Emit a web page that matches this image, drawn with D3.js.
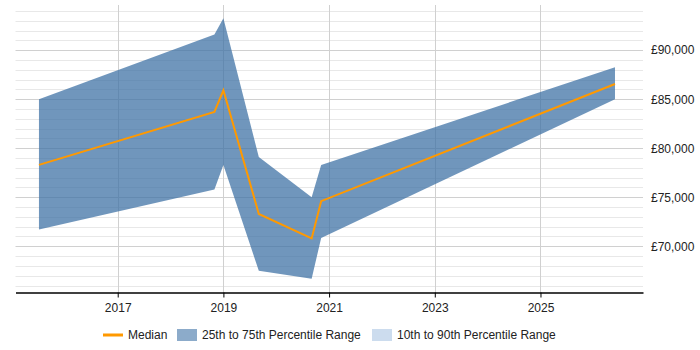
<!DOCTYPE html>
<html>
<head>
<meta charset="utf-8">
<script src="https://cdn.jsdelivr.net/npm/d3@7"></script>
<style>
html,body{margin:0;padding:0;background:#fff;}
svg text{font-family:"Liberation Sans",Arial,sans-serif;}
</style>
</head>
<body>
<svg id="chart" width="700" height="350"></svg>
<script>
// Data
const dates = [2015.51, 2018.83, 2019.0, 2019.67, 2020.67, 2020.85, 2026.41];
const p25 = [71700, 75800, 78300, 67500, 66700, 70850, 85000];
const median = [78300, 83700, 85900, 73300, 70800, 74600, 86550];
const p75 = [85000, 91600, 93250, 79100, 75000, 78300, 88250];
const xTicks = [2017, 2019, 2021, 2023, 2025];
const yTicks = [70000, 75000, 80000, 85000, 90000];
const yMinor = d3.range(66000, 95000, 1000);
const legendItems = ["Median", "25th to 75th Percentile Range", "10th to 90th Percentile Range"];

const svg = d3.select("#chart");
const L = 15.5, R = 643, T = 5, B = 292.3;
const x = d3.scaleLinear().domain([2015.066, 2026.94]).range([L, R]);
const y = d3.scaleLinear().domain([65310, 94600]).range([B, T]);

const data = dates.map((d, i) => ({d, lo: p25[i], m: median[i], hi: p75[i]}));

// minor gridlines
svg.append("g").selectAll("line").data(yMinor.filter(v => v % 5000 !== 0)).join("line")
  .attr("x1", L).attr("x2", R).attr("y1", d => Math.round(y(d)) + 0.5).attr("y2", d => Math.round(y(d)) + 0.5)
  .attr("stroke", "#e8e8e8").attr("stroke-width", 1);
// major gridlines
svg.append("g").selectAll("line").data(yTicks).join("line")
  .attr("x1", L).attr("x2", R).attr("y1", d => Math.round(y(d)) + 0.5).attr("y2", d => Math.round(y(d)) + 0.5)
  .attr("stroke", "#d0d0d0").attr("stroke-width", 1);
// vertical gridlines
svg.append("g").selectAll("line").data(xTicks).join("line")
  .attr("x1", d => Math.round(x(d)) + 0.5).attr("x2", d => Math.round(x(d)) + 0.5).attr("y1", T).attr("y2", B)
  .attr("stroke", "#d0d0d0").attr("stroke-width", 1);

// band
const area = d3.area().x(d => x(d.d)).y0(d => y(d.lo)).y1(d => y(d.hi));
svg.append("path").datum(data).attr("d", area).attr("fill", "#4073a6").attr("fill-opacity", 0.75);

// median line
const line = d3.line().x(d => x(d.d)).y(d => y(d.m));
svg.append("path").datum(data).attr("d", line).attr("fill", "none")
  .attr("stroke", "#ff9900").attr("stroke-width", 2);

// x axis
const xAxis = d3.axisBottom(x).tickValues(xTicks).tickFormat(d3.format("d")).tickSize(5).tickSizeOuter(0);
const gx = svg.append("g").attr("transform", `translate(0,${Math.round(B) + 0.5})`).call(xAxis);
gx.select(".domain").attr("stroke", "#000").attr("stroke-width", 1.3);
gx.selectAll(".tick line").attr("stroke", "#000");
gx.selectAll(".tick text").attr("font-size", 12).attr("fill", "#222").attr("dy", "0.95em")
  .attr("font-family", "'Liberation Sans', Arial, sans-serif");

// y axis (right)
const yAxis = d3.axisRight(y).tickValues(yTicks).tickFormat(d => "£" + d3.format(",")(d)).tickSize(0).tickPadding(8);
const gy = svg.append("g").attr("transform", `translate(${R},0)`).call(yAxis);
gy.select(".domain").remove();
gy.selectAll(".tick text").attr("font-size", 12).attr("fill", "#222")
  .attr("font-family", "'Liberation Sans', Arial, sans-serif");

// legend
const lg = svg.append("g");
const ly = 335;
lg.append("line").attr("x1", 103).attr("x2", 123).attr("y1", ly).attr("y2", ly)
  .attr("stroke", "#ff9900").attr("stroke-width", 3);
lg.append("text").attr("x", 128).attr("y", ly).attr("dy", "0.35em").attr("font-size", 12).attr("fill", "#222").text(legendItems[0]);
lg.append("rect").attr("x", 177).attr("y", 329).attr("width", 20).attr("height", 12)
  .attr("fill", "#4073a6").attr("fill-opacity", 0.6);
lg.append("text").attr("x", 202).attr("y", ly).attr("dy", "0.35em").attr("font-size", 12).attr("fill", "#222").text(legendItems[1]);
lg.append("rect").attr("x", 372).attr("y", 329).attr("width", 20).attr("height", 12)
  .attr("fill", "#ccdcee");
lg.append("text").attr("x", 397).attr("y", ly).attr("dy", "0.35em").attr("font-size", 12).attr("fill", "#222").text(legendItems[2]);
</script>
</body>
</html>
